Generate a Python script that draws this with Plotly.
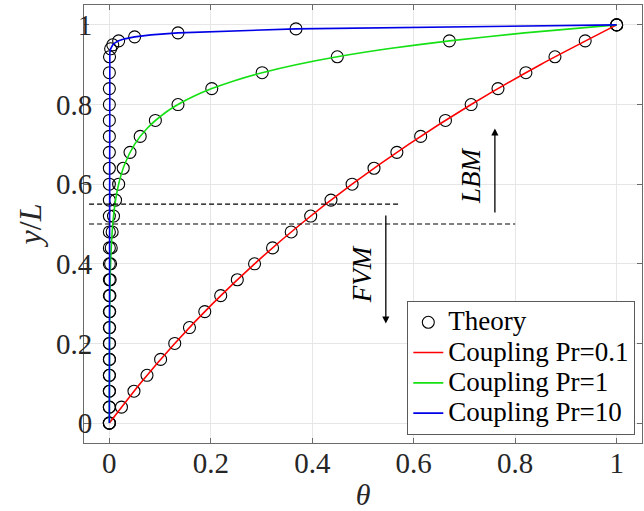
import plotly.graph_objects as go

# ---------------- data ----------------
# Theory (analytical) points
theory_y_01 = [0, 0.04, 0.08, 0.12, 0.16, 0.20, 0.24, 0.28, 0.32, 0.36, 0.40, 0.44, 0.48,
               0.52, 0.56, 0.60, 0.64, 0.68, 0.72, 0.76, 0.80, 0.84, 0.88, 0.92, 0.96, 1.0]
theory_t_01 = [0, 0.0238, 0.0485, 0.0742, 0.1010, 0.1289, 0.1579, 0.1881, 0.2195, 0.2522,
               0.2862, 0.3217, 0.3585, 0.3969, 0.4369, 0.4785, 0.5217, 0.5668, 0.6137,
               0.6625, 0.7132, 0.7661, 0.8211, 0.8784, 0.9380, 1.0]

theory_y_1 = [0, 0.04, 0.08, 0.12, 0.16, 0.20, 0.24, 0.28, 0.32, 0.36, 0.40, 0.44, 0.48,
              0.52, 0.56, 0.60, 0.64, 0.68, 0.72, 0.76, 0.80, 0.84, 0.88, 0.92, 0.96, 1.0]
theory_t_1 = [0, 0.00002, 0.00006, 0.0001, 0.0002, 0.0003, 0.0005, 0.0007, 0.0011, 0.0016,
              0.0024, 0.0037, 0.0055, 0.0082, 0.0122, 0.0183, 0.0273, 0.0407, 0.0608,
              0.0907, 0.1353, 0.2019, 0.3012, 0.4493, 0.6703, 1.0]

theory_y_10 = [0, 0.04, 0.08, 0.12, 0.16, 0.20, 0.24, 0.28, 0.32, 0.36, 0.40, 0.44, 0.48,
               0.52, 0.56, 0.60, 0.64, 0.68, 0.72, 0.76, 0.80, 0.84, 0.88, 0.92,
               0.94, 0.95, 0.96, 0.97, 0.98, 0.99, 1.0]
theory_t_10 = [0, 0, 0, 0, 0, 0, 0, 0, 0, 0, 0, 0, 0, 0, 0, 0, 0, 0, 0, 0, 0, 0, 0, 0.0003,
               0.0025, 0.0067, 0.0183, 0.0498, 0.1353, 0.3679, 1.0]

# Coupling (LBM-FVM) results
coup_y_01 = [0, 0.1, 0.2, 0.3, 0.4, 0.5, 0.6, 0.7, 0.8, 0.9, 1.0]
coup_t_01 = [0, 0.0612, 0.1289, 0.2036, 0.2862, 0.3775, 0.4785, 0.5900, 0.7132, 0.8495, 1.0]

coup_y_1 = [0, 0.2, 0.3, 0.4, 0.5, 0.55, 0.6, 0.65, 0.7, 0.74, 0.78, 0.8, 0.82, 0.84,
            0.86, 0.88, 0.9, 0.92, 0.94, 0.96, 0.98, 1.0]
coup_t_1 = [0, 0.0003, 0.0009, 0.0024, 0.0067, 0.0111, 0.0183, 0.0302, 0.0497, 0.0742,
            0.1107, 0.1353, 0.1653, 0.2019, 0.2466, 0.3012, 0.3679, 0.4493, 0.5488,
            0.6703, 0.8187, 1.0]

coup_y_10 = [0, 0.9, 0.92, 0.93, 0.94, 0.95, 0.955, 0.96, 0.965, 0.97, 0.975, 0.98, 0.99, 1.0]
coup_t_10 = [0, 0.0000, 0.0003, 0.0009, 0.0025, 0.0067, 0.0111, 0.0183, 0.0302, 0.0498,
             0.0821, 0.1353, 0.3679, 1.0]

series_names = ["Theory", "Coupling Pr=0.1", "Coupling Pr=1", "Coupling Pr=10"]

# Interface (dashed) lines
dash_y = [0.55, 0.50]
dash_x0 = [-0.04, -0.04]
dash_x1 = [0.575, 0.80]

# Region arrows: (x, y_tail, y_head) and labels
arrow_names = ["LBM", "FVM"]
arrow_x = [0.76, 0.545]
arrow_tail = [0.525, 0.525]
arrow_head = [0.74, 0.25]
label_x = [0.714, 0.497]
label_y = [0.622, 0.375]

xticks = [0, 0.2, 0.4, 0.6, 0.8, 1]
xticklabels = ["0", "0.2", "0.4", "0.6", "0.8", "1"]
yticks = [0, 0.2, 0.4, 0.6, 0.8, 1]
yticklabels = ["0", "0.2", "0.4", "0.6", "0.8", "1"]

# ---------------- figure ----------------
SERIF = "Times New Roman, Liberation Serif, DejaVu Serif, serif"
LEG_TXT = '<span style="font-size:27px">{}</span>'
marker_style = dict(symbol="circle-open", size=12, color="black", line=dict(width=1.1, color="black"))

fig = go.Figure()

fig.add_trace(go.Scatter(x=theory_t_01, y=theory_y_01, mode="markers",
                         name=LEG_TXT.format(series_names[0]), marker=marker_style))
fig.add_trace(go.Scatter(x=theory_t_1, y=theory_y_1, mode="markers", name=series_names[0],
                         marker=marker_style, showlegend=False))
fig.add_trace(go.Scatter(x=theory_t_10, y=theory_y_10, mode="markers", name=series_names[0],
                         marker=marker_style, showlegend=False))

fig.add_trace(go.Scatter(x=coup_t_01, y=coup_y_01, mode="lines", name=LEG_TXT.format(series_names[1]),
                         line=dict(color="#ff0000", width=1.6, shape="spline", smoothing=0.6)))
fig.add_trace(go.Scatter(x=coup_t_1, y=coup_y_1, mode="lines", name=LEG_TXT.format(series_names[2]),
                         line=dict(color="#14e014", width=1.6, shape="spline", smoothing=0.6)))
fig.add_trace(go.Scatter(x=coup_t_10, y=coup_y_10, mode="lines", name=LEG_TXT.format(series_names[3]),
                         line=dict(color="#0000e6", width=1.6)))

for yv, x0, x1 in zip(dash_y, dash_x0, dash_x1):
    fig.add_trace(go.Scatter(x=[x0, x1], y=[yv, yv], mode="lines", showlegend=False,
                             hoverinfo="skip",
                             line=dict(color="black", width=1.2, dash="5px,3px")))

for name, ax_, yt, yh, lx, ly in zip(arrow_names, arrow_x, arrow_tail, arrow_head, label_x, label_y):
    fig.add_annotation(x=ax_, y=yh, ax=ax_, ay=yt, xref="x", yref="y", axref="x", ayref="y",
                       text="", showarrow=True, arrowhead=2, arrowsize=1.1, arrowwidth=1.3,
                       arrowcolor="black", standoff=0, startstandoff=0)
    fig.add_annotation(x=lx, y=ly, xref="x", yref="y", text="<i>" + name + "</i>",
                       showarrow=False, textangle=-90,
                       font=dict(family=SERIF, size=27, color="black"))

axis_common = dict(
    showgrid=True, gridcolor="#e6e6e6", gridwidth=1,
    showline=True, linecolor="#6a6a6a", linewidth=1, mirror="allticks",
    ticks="inside", ticklen=5, tickcolor="#6a6a6a", tickwidth=1,
    zeroline=False,
    tickfont=dict(family=SERIF, size=29, color="#262626"),
)

fig.update_layout(
    width=644, height=511,
    margin=dict(l=84, r=2, t=5, b=68),
    paper_bgcolor="white", plot_bgcolor="white",
    xaxis=dict(range=[-0.05, 1.05], tickvals=xticks, ticktext=xticklabels,
               ticklabelstandoff=-6,
               title=dict(text="<i>θ</i>", font=dict(family=SERIF, size=30, color="#262626"),
                          standoff=8),
               **axis_common),
    yaxis=dict(range=[-0.05, 1.05], tickvals=yticks, ticktext=yticklabels,
               ticklabelstandoff=-15,
               title=dict(text="<i>y</i>/<i>L</i>", font=dict(family=SERIF, size=32, color="#262626"),
                          standoff=4),
               **axis_common),
    legend=dict(x=0.988, y=0.018, xanchor="right", yanchor="bottom",
                bgcolor="white", bordercolor="#5a5a5a", borderwidth=1,
                font=dict(family=SERIF, size=21, color="black"),
                itemwidth=30, tracegroupgap=0),
    showlegend=True,
)

fig.write_html("out.html")
